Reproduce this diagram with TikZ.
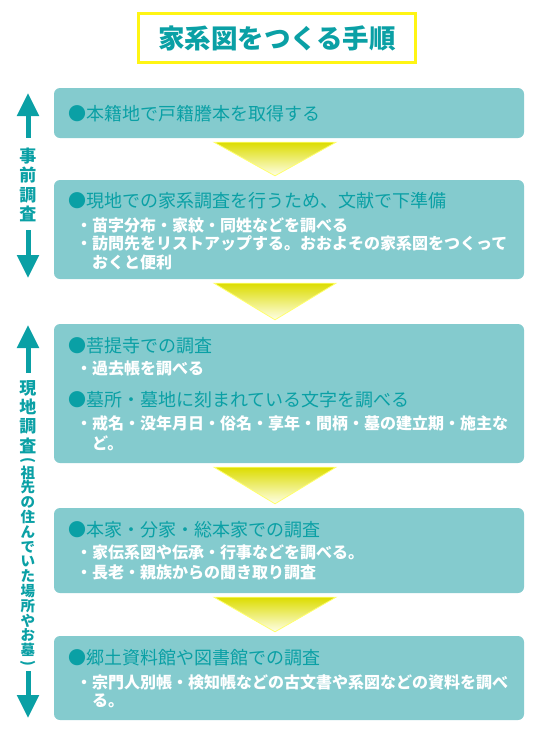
\documentclass[tikz,border=0pt]{standalone}
\usepackage{fontspec}
\newfontfamily\jp{Noto Sans CJK JP}
\usetikzlibrary{arrows.meta}
\definecolor{tealtxt}{RGB}{10,160,165}
\definecolor{boxfill}{RGB}{132,203,206}
\definecolor{ttlyellow}{RGB}{255,245,20}
\definecolor{triyellow}{RGB}{220,220,0}
\definecolor{trilight}{RGB}{255,255,232}
\definecolor{triedge}{RGB}{255,255,110}
\newcommand{\smc}[1]{{\fontsize{14.5}{14.5}\selectfont #1}}
\newcommand{\vpar}[1]{\rotatebox[origin=c]{-90}{\fontsize{14.5}{14.5}\selectfont #1}}

\tikzset{
  ttl/.style={draw=ttlyellow, line width=3pt, fill=white, minimum width=277pt,
    minimum height=49pt, text=tealtxt, font=\jp\bfseries\fontsize{26.5}{26.5}\selectfont},
  stage/.style={fill=boxfill, rounded corners=6pt, minimum width=470pt, inner sep=0pt},
  hd/.style={anchor=base west, inner sep=0pt, text=tealtxt, font=\jp\fontsize{18}{18}\selectfont},
  it/.style={anchor=base west, inner sep=0pt, text=white, font=\jp\bfseries\fontsize{16}{16}\selectfont},
  tri/.style={top color=triyellow, bottom color=trilight, draw=triedge, line width=0.8pt},
  vlab/.style={inner sep=0pt, align=center, text=tealtxt, font=\jp\bfseries\fontsize{17}{19.3}\selectfont},
  varr/.style={draw=tealtxt, line width=5pt, -{Triangle[width=21pt,length=23pt]}}
}

\begin{document}
\begin{tikzpicture}[x=1pt,y=-1pt]
\useasboundingbox (0,0) rectangle (550,750);

\node[ttl] (title) at (277,38) {家系図をつくる手順};

\node[stage, minimum height=50pt] (b1) at (289,113) {};
\node[stage, minimum height=99pt] (b2) at (289,229.5) {};
\node[stage, minimum height=139pt] (b3) at (289,393.5) {};
\node[stage, minimum height=85pt] (b4) at (289,550.5) {};
\node[stage, minimum height=84pt] (b5) at (289,678) {};

\foreach \a/\b in {b1/b2,b2/b3,b3/b4,b4/b5}
  \shade[tri] ([xshift=-75pt,yshift=-4pt]\a.south) -- ([xshift=47pt,yshift=-4pt]\a.south)
    -- ([xshift=-14pt,yshift=4pt]\b.north) -- cycle;

\node[hd] (h1) at (68,120) {●本籍地で戸籍謄本を取得する};

\node[hd] (h2) at (68,207) {●現地での家系調査を行うため、文献で下準備};
\node[it] (i2a) at (76,231) {・苗字分布・家紋・同姓などを調べる};
\node[it] (i2b) at (76,249) {・訪問先をリストアップする。おおよその家系図をつくって};
\node[it] (i2c) at (92,268) {おくと便利};

\node[hd] (h3) at (68,352) {●菩提寺での調査};
\node[it] (i3a) at (76,374) {・過去帳を調べる};
\node[hd] (h3b) at (68,406) {●墓所・墓地に刻まれている文字を調べる};
\node[it] (i3b) at (76,429) {・戒名・没年月日・俗名・享年・間柄・墓の建立期・施主な};
\node[it] (i3c) at (92,449) {ど。};

\node[hd] (h4) at (68,536) {●本家・分家・総本家での調査};
\node[it] (i4a) at (76,558) {・家伝系図や伝承・行事などを調べる。};
\node[it] (i4b) at (76,578) {・長老・親族からの聞き取り調査};

\node[hd] (h5) at (68,664) {●郷土資料館や図書館での調査};
\node[it] (i5a) at (76,688) {・宗門人別帳・検知帳などの古文書や系図などの資料を調べ};
\node[it] (i5b) at (92,706) {る。};

\node[vlab] (pre) at (28,185) {事\\前\\調\\査};
\coordinate (pretop) at (28,93);
\coordinate (prebot) at (28,278);
\draw[varr, shorten <=10pt] (pre) -- (pretop);
\draw[varr, shorten <=8pt] (pre) -- (prebot);

\node[vlab, anchor=north] (field) at (28,380) {現\\地\\調\\査\\[-6.3pt]
  \vpar{(}\\[-6.3pt]\smc{祖}\\[-4.5pt]\smc{先}\\[-4.5pt]\smc{の}\\[-4.5pt]\smc{住}\\[-4.5pt]
  \smc{ん}\\[-4.5pt]\smc{で}\\[-4.5pt]\smc{い}\\[-4.5pt]\smc{た}\\[-4.5pt]\smc{場}\\[-4.5pt]
  \smc{所}\\[-4.5pt]\smc{や}\\[-4.5pt]\smc{お}\\[-4.5pt]\smc{墓}\\[-7pt]\vpar{)}};
\coordinate (fieldtop) at (28,325);
\coordinate (fieldbot) at (28,718);
\draw[varr, shorten <=7pt] (field) -- (fieldtop);
\draw[varr, shorten <=3pt] (field) -- (fieldbot);
\end{tikzpicture}
\end{document}
